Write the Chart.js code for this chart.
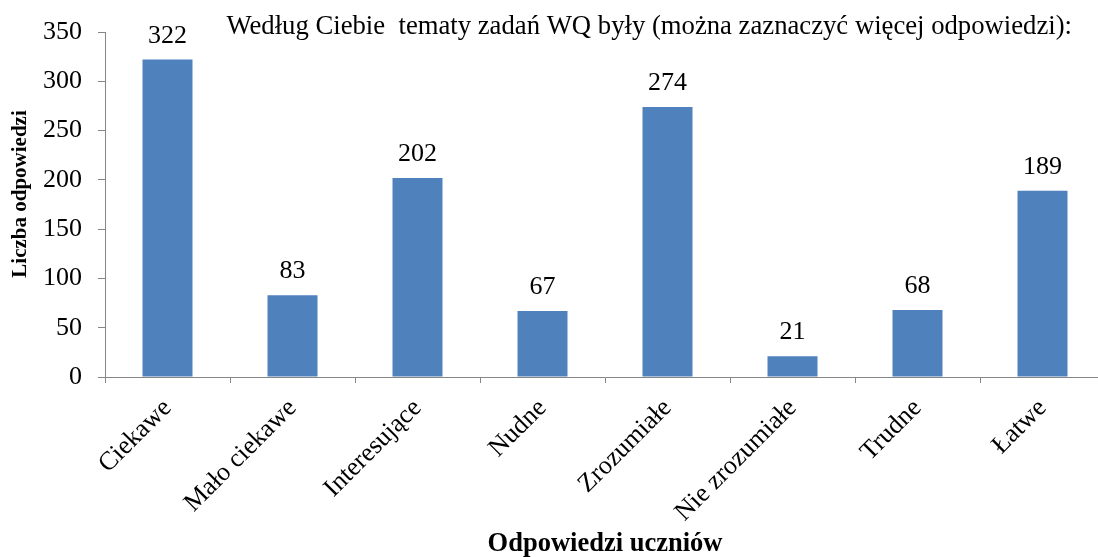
<!DOCTYPE html>
<html>
<head>
<meta charset="utf-8">
<script src="https://cdn.jsdelivr.net/npm/chart.js@4/dist/chart.umd.min.js"></script>
<style>
  html, body { margin: 0; padding: 0; background: #fff; overflow: hidden; }
  #wrap { width: 1110px; height: 557px; position: relative; }
</style>
</head>
<body>
<div id="wrap"><canvas id="myChart"></canvas></div>
<script>
const categories = ["Ciekawe", "Mało ciekawe", "Interesujące", "Nudne", "Zrozumiałe", "Nie zrozumiałe", "Trudne", "Łatwe"];
const answers = [322, 83, 202, 67, 274, 21, 68, 189];
const yTicks = [0, 50, 100, 150, 200, 250, 300, 350];
const chartTitle = "Według Ciebie  tematy zadań WQ były (można zaznaczyć więcej odpowiedzi):";

const serif = "'Liberation Serif', 'Times New Roman', serif";
const axisGray = "#868686";

// value labels above the bars
const valueLabels = {
  id: "valueLabels",
  afterDatasetsDraw(chart) {
    const ctx = chart.ctx;
    const meta = chart.getDatasetMeta(0);
    ctx.save();
    ctx.font = "26px " + serif;
    ctx.fillStyle = "#000";
    ctx.textAlign = "center";
    ctx.textBaseline = "alphabetic";
    meta.data.forEach((bar, i) => {
      ctx.fillText(String(answers[i]), bar.x, bar.y - 17);
    });
    ctx.restore();
  },
};

const topTitle = {
  id: "topTitle",
  afterDraw(chart) {
    const ctx = chart.ctx;
    ctx.save();
    ctx.font = "26.7px " + serif;
    ctx.fillStyle = "#000";
    ctx.textAlign = "right";
    ctx.textBaseline = "middle";
    ctx.fillText(chartTitle, 1072, 27);
    ctx.restore();
  },
};

const data = {
  labels: categories,
  datasets: [
    {
      label: "Liczba odpowiedzi",
      data: answers,
      backgroundColor: "#4F81BD",
      borderWidth: 0,
      barPercentage: 0.4,
      categoryPercentage: 1,
    },
  ],
};

const config = {
  type: "bar",
  data: data,
  options: {
    responsive: true,
    maintainAspectRatio: false,
    animation: false,
    layout: { padding: { top: 32, right: 5, left: 0, bottom: 0 } },
    plugins: {
      legend: { display: false },
      tooltip: { enabled: false },
    },
    scales: {
      x: {
        offset: true,
        grid: {
          offset: true,
          drawOnChartArea: false,
          drawTicks: true,
          tickLength: 6,
          color: axisGray,
        },
        border: { color: axisGray, width: 1 },
        ticks: {
          color: "#000",
          font: { family: serif, size: 26 },
          maxRotation: 45,
          minRotation: 45,
          autoSkip: false,
          padding: 10,
        },
        title: {
          display: true,
          text: "Odpowiedzi uczniów",
          color: "#000",
          font: { family: serif, size: 26.5, weight: "bold" },
          padding: { top: 0, bottom: -3 },
        },
        afterFit(scale) {
          scale.height = 180;
        },
      },
      y: {
        min: 0,
        max: 350,
        afterBuildTicks(scale) {
          scale.ticks = yTicks.map((v) => ({ value: v }));
        },
        grid: {
          drawOnChartArea: false,
          drawTicks: true,
          tickLength: 7,
          color: axisGray,
        },
        border: { color: axisGray, width: 1 },
        ticks: {
          color: "#000",
          font: { family: serif, size: 26 },
          padding: 16,
        },
        title: {
          display: true,
          text: "    Liczba odpowiedzi",
          color: "#000",
          font: { family: serif, size: 21, weight: "bold" },
          padding: { top: 8, bottom: 0 },
        },
        afterFit(scale) {
          scale.width = 105;
        },
      },
    },
  },
  plugins: [valueLabels, topTitle],
};

new Chart(document.getElementById("myChart"), config);
</script>
</body>
</html>
